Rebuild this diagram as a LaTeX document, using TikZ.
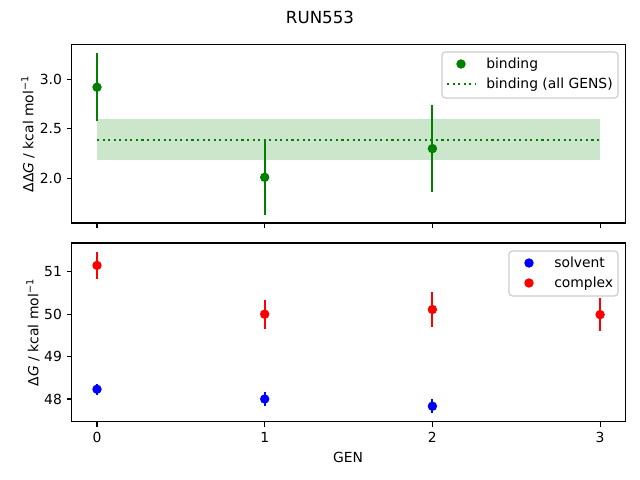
\documentclass[tikz,border=0pt]{standalone}
\usepackage{fontspec}
\setmainfont{DejaVu Sans}
\definecolor{mplgreen}{HTML}{008000}
\definecolor{bandgreen}{HTML}{CCE6CC}
\definecolor{legendgray}{HTML}{CCCCCC}
\begin{document}
\begin{tikzpicture}[
  x=0.72bp, y=-0.72bp,
  spine/.style={line width=0.8bp, black},
  tick/.style={line width=0.8bp, black},
  errbar/.style={line width=1.5bp},
  ticklabel/.style={inner sep=0pt, font=\fontsize{10bp}{12bp}\selectfont},
  legendbox/.style={draw=legendgray, fill=white, fill opacity=0.8, rounded corners=2.5bp, line width=0.8bp},
  mean line/.style={mplgreen, line width=1.5bp, dash pattern=on 1.5bp off 2.5bp},
]
  \useasboundingbox (0,0) rectangle (640,480);
  \node[inner sep=0pt, font=\fontsize{12bp}{14bp}\selectfont] (title) at (320,17) {RUN553};

  % top panel: binding
  \begin{scope}[shift={(97,376.3)}, x={(167.7,0)}, y={(0,-99)}]
    \fill[bandgreen] (0,2.18) rectangle (3,2.60);
    \draw[mean line] (0,2.39) -- (3,2.39);
    \foreach \g/\v/\e in {0/2.92/0.345, 1/2.01/0.38, 2/2.30/0.44} {
      \draw[errbar, mplgreen] (\g,\v-\e) -- (\g,\v+\e);
      \fill[mplgreen] (\g,\v) circle[radius=3.4bp];
    }
    \draw[spine] (-0.15,1.548) rectangle (3.15,3.347);
    \foreach \g in {0,...,3}
      \draw[tick] (\g,1.548) -- ++(0,-3.5bp);
    \foreach \v [count=\i] in {2.0,2.5,3.0} {
      \draw[tick] (-0.15,\v) -- ++(-3.5bp,0);
      \node[ticklabel, anchor=east] (ytop\i) at ([xshift=-7bp]-0.15,\v) {\v};
    }
  \end{scope}
  \node[ticklabel, rotate=90, anchor=south] (ylabel top) at (35,134)
    {ΔΔ\textit{G} / kcal mol\textsuperscript{−1}};
  \draw[legendbox] (442,52) rectangle (618,98);
  \fill[mplgreen] (461,64) circle[radius=3.4bp];
  \node[ticklabel, anchor=base west] (leg binding) at (486,69) {binding};
  \draw[mean line] (447,84) -- (475,84);
  \node[ticklabel, anchor=base west] (leg all) at (486,89) {binding (all GENS)};

  % bottom panel: solvent and complex
  \begin{scope}[shift={(97,2434.2)}, x={(167.7,0)}, y={(0,-42.4)}]
    \foreach \g/\v/\e in {0/48.23/0.13, 1/48.0/0.16, 2/47.83/0.17} {
      \draw[errbar, blue] (\g,\v-\e) -- (\g,\v+\e);
      \fill[blue] (\g,\v) circle[radius=3.4bp];
    }
    \foreach \g/\v/\e in {0/51.15/0.31, 1/50.0/0.34, 2/50.11/0.41, 3/49.99/0.39} {
      \draw[errbar, red] (\g,\v-\e) -- (\g,\v+\e);
      \fill[red] (\g,\v) circle[radius=3.4bp];
    }
    \draw[spine] (-0.15,47.46) rectangle (3.15,51.68);
    \foreach \g in {0,...,3} {
      \draw[tick] (\g,47.46) -- ++(0,-3.5bp);
      \node[ticklabel, anchor=north] (xbot\g) at ([yshift=-7bp]\g,47.46) {\g};
    }
    \foreach \v in {48,...,51} {
      \draw[tick] (-0.15,\v) -- ++(-3.5bp,0);
      \node[ticklabel, anchor=east] (ybot\v) at ([xshift=-7bp]-0.15,\v) {\v};
    }
  \end{scope}
  \node[ticklabel, rotate=90, anchor=south] (ylabel bot) at (40,332.5)
    {Δ\textit{G} / kcal mol\textsuperscript{−1}};
  \node[ticklabel] (xlabel) at (348,457) {GEN};
  \draw[legendbox] (509,251) rectangle (618,296);
  \fill[blue] (529,263) circle[radius=3.4bp];
  \node[ticklabel, anchor=base west] (leg solvent) at (554,268) {solvent};
  \fill[red] (529,283) circle[radius=3.4bp];
  \node[ticklabel, anchor=base west] (leg complex) at (554,288) {complex};
\end{tikzpicture}
\end{document}
